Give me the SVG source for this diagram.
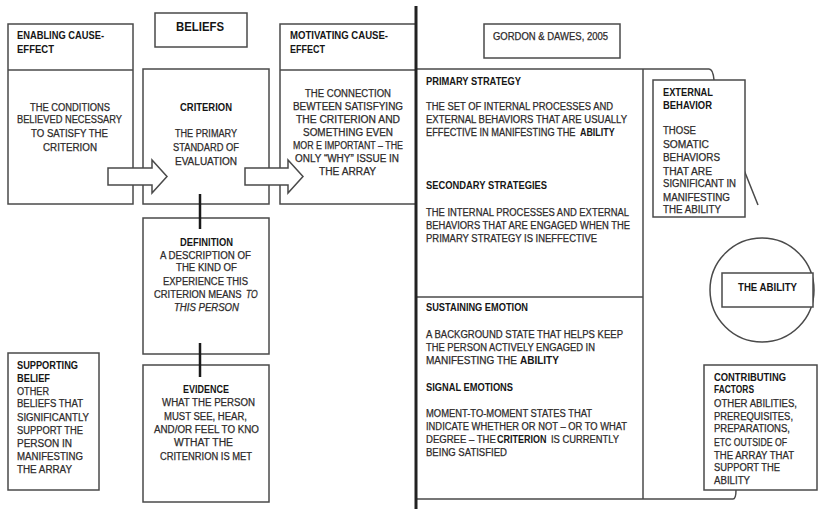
<svg xmlns="http://www.w3.org/2000/svg" width="819" height="509" viewBox="0 0 819 509">
<style>
text{font-family:"Liberation Sans",Arial,sans-serif;font-size:10px}
.h{font-weight:bold;fill:#151515}
.b{fill:#2e2b2b;stroke:#2e2b2b;stroke-width:0.25}
.i{font-style:italic}
.box{fill:#fff;stroke:#4a4a4a;stroke-width:1.5}
.ln{fill:none;stroke:#4a4a4a;stroke-width:1.5}
.arrow{fill:#fff;stroke:#4a4a4a;stroke-width:1.5;stroke-linejoin:miter}
.link{stroke:#1a1a1a;stroke-width:2.5}
</style>
<rect width="819" height="509" fill="#fff"/>

<g id="frame">
  <path class="ln" d="M416 69 H709 Q713 69 714 80"/>
  <line class="ln" x1="643" y1="69" x2="643" y2="499"/>
  <line class="ln" x1="416" y1="297" x2="643" y2="297"/>
  <path class="ln" d="M416 499 H733 Q736 499 736 490"/>
  <line class="ln" x1="744" y1="170" x2="758" y2="205"/>
</g>

<g id="enabling">
  <rect class="box" x="8" y="24" width="125" height="180"/>
  <line class="ln" x1="8" y1="70" x2="133" y2="70"/>
  <text class="h" x="17" y="39" textLength="87" lengthAdjust="spacingAndGlyphs">ENABLING CAUSE-</text>
  <text class="h" x="17" y="53" textLength="37" lengthAdjust="spacingAndGlyphs">EFFECT</text>
  <text class="b" x="30" y="111" textLength="80" lengthAdjust="spacingAndGlyphs">THE CONDITIONS</text>
  <text class="b" x="17" y="123" textLength="105" lengthAdjust="spacingAndGlyphs">BELIEVED NECESSARY</text>
  <text class="b" x="31" y="137" textLength="77" lengthAdjust="spacingAndGlyphs">TO SATISFY THE</text>
  <text class="b" x="43" y="151" textLength="54" lengthAdjust="spacingAndGlyphs">CRITERION</text>
</g>

<g id="beliefs">
  <rect class="box" x="155" y="13" width="92" height="34"/>
  <text class="h" x="176" y="31" style="font-size:13px" textLength="48" lengthAdjust="spacingAndGlyphs">BELIEFS</text>
</g>

<g id="criterion">
  <rect class="box" x="143" y="69" width="126" height="135"/>
  <text class="h" x="180" y="111" textLength="52" lengthAdjust="spacingAndGlyphs">CRITERION</text>
  <text class="b" x="175" y="137" textLength="62" lengthAdjust="spacingAndGlyphs">THE PRIMARY</text>
  <text class="b" x="173" y="151" textLength="66" lengthAdjust="spacingAndGlyphs">STANDARD OF</text>
  <text class="b" x="175" y="165" textLength="62" lengthAdjust="spacingAndGlyphs">EVALUATION</text>
</g>

<g id="motivating">
  <rect class="box" x="280" y="24" width="136" height="180"/>
  <line class="ln" x1="280" y1="70" x2="416" y2="70"/>
  <text class="h" x="290" y="39" textLength="98" lengthAdjust="spacingAndGlyphs">MOTIVATING CAUSE-</text>
  <text class="h" x="290" y="53" textLength="35" lengthAdjust="spacingAndGlyphs">EFFECT</text>
  <text class="b" x="305" y="97" textLength="86" lengthAdjust="spacingAndGlyphs">THE CONNECTION</text>
  <text class="b" x="293" y="110" textLength="110" lengthAdjust="spacingAndGlyphs">BEWTEEN SATISFYING</text>
  <text class="b" x="296" y="123" textLength="104" lengthAdjust="spacingAndGlyphs">THE CRITERION AND</text>
  <text class="b" x="303" y="136" textLength="90" lengthAdjust="spacingAndGlyphs">SOMETHING EVEN</text>
  <text class="b" x="293" y="149" textLength="110" lengthAdjust="spacingAndGlyphs">MOR E IMPORTANT – THE</text>
  <text class="b" x="295" y="162" textLength="104" lengthAdjust="spacingAndGlyphs">ONLY “WHY” ISSUE IN</text>
  <text class="b" x="319" y="175" textLength="57" lengthAdjust="spacingAndGlyphs">THE ARRAY</text>
</g>

<g id="gordon">
  <rect class="box" x="484" y="24" width="136" height="34"/>
  <text class="b" x="493" y="40" textLength="115" lengthAdjust="spacingAndGlyphs">GORDON &amp; DAWES, 2005</text>
</g>

<g id="strategy">
  <text class="h" x="426" y="85" textLength="95" lengthAdjust="spacingAndGlyphs">PRIMARY STRATEGY</text>
  <text class="b" x="426" y="110" textLength="187" lengthAdjust="spacingAndGlyphs">THE SET OF INTERNAL PROCESSES AND</text>
  <text class="b" x="426" y="123" textLength="201" lengthAdjust="spacingAndGlyphs">EXTERNAL BEHAVIORS THAT ARE USUALLY</text>
  <text class="b" transform="translate(426 136) scale(0.928 1)">EFFECTIVE IN MANIFESTING THE</text>
  <text class="h" transform="translate(580 136) scale(0.89 1)">ABILITY</text>
  <text class="h" x="426" y="189" textLength="121" lengthAdjust="spacingAndGlyphs">SECONDARY STRATEGIES</text>
  <text class="b" x="426" y="216" textLength="203" lengthAdjust="spacingAndGlyphs">THE INTERNAL PROCESSES AND EXTERNAL</text>
  <text class="b" x="426" y="229" textLength="204" lengthAdjust="spacingAndGlyphs">BEHAVIORS THAT ARE ENGAGED WHEN THE</text>
  <text class="b" x="426" y="242" textLength="171" lengthAdjust="spacingAndGlyphs">PRIMARY STRATEGY IS INEFFECTIVE</text>
</g>

<g id="emotion">
  <text class="h" x="426" y="311" textLength="102" lengthAdjust="spacingAndGlyphs">SUSTAINING EMOTION</text>
  <text class="b" x="426" y="338" textLength="197" lengthAdjust="spacingAndGlyphs">A BACKGROUND STATE THAT HELPS KEEP</text>
  <text class="b" x="426" y="351" textLength="169" lengthAdjust="spacingAndGlyphs">THE PERSON ACTIVELY ENGAGED IN</text>
  <text class="b" x="426" y="364">MANIFESTING THE</text>
  <text class="h" x="520" y="364">ABILITY</text>
  <text class="h" x="426" y="391" textLength="87" lengthAdjust="spacingAndGlyphs">SIGNAL EMOTIONS</text>
  <text class="b" x="426" y="417" textLength="166" lengthAdjust="spacingAndGlyphs">MOMENT-TO-MOMENT STATES THAT</text>
  <text class="b" x="426" y="430" textLength="201" lengthAdjust="spacingAndGlyphs">INDICATE WHETHER OR NOT – OR TO WHAT</text>
  <text class="b" transform="translate(426 443) scale(0.955 1)">DEGREE – THE</text>
  <text class="h" transform="translate(497 443) scale(0.9 1)">CRITERION</text>
  <text class="b" transform="translate(551 443) scale(0.94 1)">IS CURRENTLY</text>
  <text class="b" x="426" y="456" textLength="81" lengthAdjust="spacingAndGlyphs">BEING SATISFIED</text>
</g>

<g id="external">
  <rect class="box" x="653" y="80" width="92" height="137"/>
  <text class="h" x="663" y="96" textLength="50" lengthAdjust="spacingAndGlyphs">EXTERNAL</text>
  <text class="h" x="663" y="109" textLength="49" lengthAdjust="spacingAndGlyphs">BEHAVIOR</text>
  <text class="b" x="663" y="134" textLength="33" lengthAdjust="spacingAndGlyphs">THOSE</text>
  <text class="b" x="663" y="148" textLength="46" lengthAdjust="spacingAndGlyphs">SOMATIC</text>
  <text class="b" x="663" y="161" textLength="57" lengthAdjust="spacingAndGlyphs">BEHAVIORS</text>
  <text class="b" x="663" y="175" textLength="49" lengthAdjust="spacingAndGlyphs">THAT ARE</text>
  <text class="b" x="663" y="187" textLength="73" lengthAdjust="spacingAndGlyphs">SIGNIFICANT IN</text>
  <text class="b" x="663" y="201" textLength="67" lengthAdjust="spacingAndGlyphs">MANIFESTING</text>
  <text class="b" x="663" y="213" textLength="58" lengthAdjust="spacingAndGlyphs">THE ABILITY</text>
</g>

<g id="ability">
  <circle class="ln" cx="762" cy="290" r="52"/>
  <rect class="box" x="722" y="273" width="91" height="34"/>
  <text class="h" x="738" y="291" textLength="59" lengthAdjust="spacingAndGlyphs">THE ABILITY</text>
</g>

<g id="contributing">
  <rect class="box" x="704" y="365" width="113" height="125"/>
  <text class="h" x="714" y="381" textLength="72" lengthAdjust="spacingAndGlyphs">CONTRIBUTING</text>
  <text class="h" x="714" y="393" textLength="40" lengthAdjust="spacingAndGlyphs">FACTORS</text>
  <text class="b" x="714" y="407" textLength="83" lengthAdjust="spacingAndGlyphs">OTHER ABILITIES,</text>
  <text class="b" x="714" y="420" textLength="79" lengthAdjust="spacingAndGlyphs">PREREQUISITES,</text>
  <text class="b" x="714" y="432" textLength="76" lengthAdjust="spacingAndGlyphs">PREPARATIONS,</text>
  <text class="b" x="714" y="446" textLength="73" lengthAdjust="spacingAndGlyphs">ETC OUTSIDE OF</text>
  <text class="b" x="714" y="459" textLength="80" lengthAdjust="spacingAndGlyphs">THE ARRAY THAT</text>
  <text class="b" x="714" y="471" textLength="66" lengthAdjust="spacingAndGlyphs">SUPPORT THE</text>
  <text class="b" x="714" y="484" textLength="36" lengthAdjust="spacingAndGlyphs">ABILITY</text>
</g>

<g id="definition">
  <rect class="box" x="143" y="218" width="126" height="136"/>
  <text class="h" x="180" y="246" textLength="53" lengthAdjust="spacingAndGlyphs">DEFINITION</text>
  <text class="b" x="160" y="259" textLength="91" lengthAdjust="spacingAndGlyphs">A DESCRIPTION OF</text>
  <text class="b" x="176" y="271" textLength="61" lengthAdjust="spacingAndGlyphs">THE KIND OF</text>
  <text class="b" x="163" y="285" textLength="85" lengthAdjust="spacingAndGlyphs">EXPERIENCE THIS</text>
  <text class="b" transform="translate(154 298) scale(0.94 1)">CRITERION MEANS</text>
  <text class="b i" transform="translate(246 298) scale(0.86 1)">TO</text>
  <text class="b i" x="174" y="311" textLength="65" lengthAdjust="spacingAndGlyphs">THIS PERSON</text>
</g>

<g id="evidence">
  <rect class="box" x="143" y="365" width="126" height="137"/>
  <text class="h" x="183" y="393" textLength="46" lengthAdjust="spacingAndGlyphs">EVIDENCE</text>
  <text class="b" x="162" y="406" textLength="93" lengthAdjust="spacingAndGlyphs">WHAT THE PERSON</text>
  <text class="b" x="164" y="420" textLength="83" lengthAdjust="spacingAndGlyphs">MUST SEE, HEAR,</text>
  <text class="b" x="154" y="433" textLength="105" lengthAdjust="spacingAndGlyphs">AND/OR FEEL TO KNO</text>
  <text class="b" x="174" y="446" textLength="59" lengthAdjust="spacingAndGlyphs">WTHAT THE</text>
  <text class="b" x="160" y="460" textLength="92" lengthAdjust="spacingAndGlyphs">CRITENRION IS MET</text>
</g>

<g id="supporting">
  <rect class="box" x="8" y="353" width="91" height="137"/>
  <text class="h" x="17" y="369" textLength="61" lengthAdjust="spacingAndGlyphs">SUPPORTING</text>
  <text class="h" x="17" y="382" textLength="33" lengthAdjust="spacingAndGlyphs">BELIEF</text>
  <text class="b" x="17" y="395" textLength="32" lengthAdjust="spacingAndGlyphs">OTHER</text>
  <text class="b" x="17" y="407" textLength="66" lengthAdjust="spacingAndGlyphs">BELIEFS THAT</text>
  <text class="b" x="17" y="421" textLength="72" lengthAdjust="spacingAndGlyphs">SIGNIFICANTLY</text>
  <text class="b" x="17" y="434" textLength="66" lengthAdjust="spacingAndGlyphs">SUPPORT THE</text>
  <text class="b" x="17" y="447" textLength="55" lengthAdjust="spacingAndGlyphs">PERSON IN</text>
  <text class="b" x="17" y="460" textLength="66" lengthAdjust="spacingAndGlyphs">MANIFESTING</text>
  <text class="b" x="17" y="473" textLength="55" lengthAdjust="spacingAndGlyphs">THE ARRAY</text>
</g>

<g id="connectors">
  <line x1="416" y1="6" x2="416" y2="509" stroke="#222" stroke-width="3"/>
  <line class="link" x1="200" y1="194" x2="200" y2="229"/>
  <line class="link" x1="200" y1="343" x2="200" y2="377"/>
  <polygon class="arrow" points="108,168 152,168 152,160 167,176.5 152,193 152,185 108,185"/>
  <polygon class="arrow" points="245,168 288,168 288,160 303,176.5 288,193 288,185 245,185"/>
</g>
</svg>
